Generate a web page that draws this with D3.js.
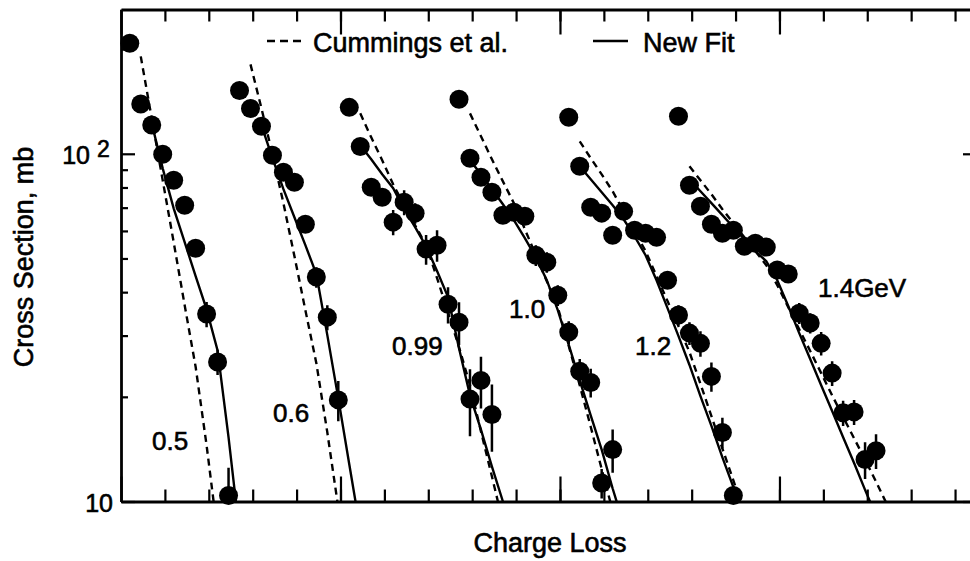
<!DOCTYPE html>
<html>
<head>
<meta charset="utf-8">
<script src="https://cdnjs.cloudflare.com/ajax/libs/d3/7.8.5/d3.min.js"></script>
<style>
  body { margin: 0; background: #fff; }
  svg text { font-family: "Liberation Sans", Arial, Helvetica, sans-serif; fill: #000; stroke: #000; stroke-width: 0.6px; }
</style>
</head>
<body>
<div id="chart"></div>
<script>
// energies (GeV) and the charge loss at which each group's first point sits
var energies = ["0.5", "0.6", "0.99", "1.0", "1.2", "1.4GeV"];
var startLoss = [0.8, 10.8, 20.8, 30.8, 40.8, 50.8];

// measured cross sections (mb), one point per unit of charge loss
var sigma05 = [208, 139, 121, 99.7, 83.9, 71.1, 53.5, 34.6, 25.2, 10.4];
var sigma06 = [152, 135, 120, 99, 88.5, 82.8, 62.7, 44.2, 33.9, 19.6];
var sigma099 = [136, 105, 80.1, 75, 63.6, 72.6, 67.5, 53.2, 54.6, 36.9, 32.8, 19.7, 22.3, 17.8];
var sigma10 = [143.5, 97.1, 85.6, 77.5, 66.6, 67.9, 66.1, 51.1, 48.8, 39.2, 30.7, 23.7, 22.0, 11.3, 14.1];
var sigma12 = [127.3, 92.1, 70.2, 67.5, 58.3, 68.3, 60.3, 59.1, 57.5, 43.3, 34.4, 30.5, 28.5, 22.9, 15.8, 10.4];
var sigma14 = [128.2, 81.2, 70.7, 62.7, 59.1, 60.3, 54.2, 55.3, 53.9, 46.3, 45.1, 34.8, 32.6, 28.5, 23.4, 18.0, 18.1, 13.2, 14.0];

// errors (mb)
var err05 = [5.6, 3.7, 3.3, 2.7, 2.8, 2.4, 2.2, 2.9, 2.1, 2.1];
var err06 = [4.1, 3.6, 3.2, 2.7, 2.4, 2.8, 2.5, 3.0, 2.8, 2.6];
var err099 = [3.7, 3.6, 3.2, 4.1, 5.3, 6.0, 4.6, 5.2, 5.7, 4.4, 4.6, 4.3, 3.8, 3.9];
var err10 = [3.9, 3.3, 2.9, 3.1, 2.7, 3.7, 3.6, 3.5, 3.3, 2.7, 2.3, 2.0, 2.1, 1.1, 2.0];
var err12 = [3.4, 2.5, 1.9, 2.3, 2.0, 2.3, 2.1, 2.4, 2.3, 2.3, 2.3, 2.3, 2.4, 2.2, 1.6, 0.7];
var err14 = [3.5, 2.2, 1.9, 1.7, 2.0, 2.0, 1.8, 1.9, 1.8, 1.9, 1.8, 2.4, 2.2, 2.2, 1.9, 1.5, 1.5, 1.6, 1.6];

// Cummings et al. curves, starting one unit after the first point
var cummings05 = [190.6, 126.5, 83.9, 55.7, 36.7, 24.4, 14.5, 8.1];
var cummings06 = [180.8, 135.1, 99.7, 72.1, 50.8, 35.5, 25.0, 15.8, 9.6];
var cummings099 = [130.7, 111.5, 95.8, 81.7, 71.1, 62.3, 54.6, 43.9, 35.0, 27.8, 21.6, 15.9, 11.8, 8.7];
var cummings10 = [130.7, 112.3, 96.4, 83.3, 72.1, 60.7, 51.1, 43.0, 36.2, 28.0, 21.6, 16.4, 12.4, 9.4];
var cummings12 = [108.6, 97.1, 87.3, 78.0, 68.3, 59.9, 52.5, 44.5, 37.7, 31.9, 26.9, 21.8, 17.6, 14.2, 11.5, 9.3];
var cummings14 = [92.1, 83.9, 76.5, 69.3, 63.1, 57.5, 52.5, 47.8, 41.9, 36.2, 31.3, 27.1, 23.4, 20.2, 17.5, 15.2, 13.2, 11.4, 9.8];

// new fit curves
var newFit05 = [122.4, 90.8, 69.7, 55.7, 44.5, 35.7, 27.2, 15.3, 8.1];
var newFit06 = [120.8, 97.1, 79.1, 65.7, 54.6, 45.1, 30.1, 19.8, 12.8, 8.3];
var newFit099 = [105.8, 96.4, 87.3, 79.6, 69.3, 61.5, 54.2, 46.0, 38.7, 27.6, 20.2, 16.1, 12.6, 10.0, 7.9];
var newFit10 = [95.8, 87.3, 79.1, 71.6, 64.4, 57.2, 50.4, 43.3, 35.5, 28.2, 22.3, 17.7, 14.1, 10.9, 8.6];
var newFit12 = [92.1, 84.5, 77.5, 71.1, 64.8, 57.9, 51.1, 43.3, 36.0, 29.9, 24.7, 20.1, 16.5, 13.4, 11.0, 9.0];
var newFit14 = [84.5, 78.0, 72.1, 66.6, 61.5, 56.8, 52.5, 49.1, 43.3, 36.5, 30.5, 25.7, 21.6, 18.2, 15.3, 12.9, 10.8, 9.1];

// offset (in units of charge loss) of each curve's first value from the group's first point
var cummingsStart = [1, 1, 1, 1, 1, 1];
var newFitStart = [2, 2, 1, 1, 1, 1];

var xMinor = d3.range(4, 78, 4);
var xMajor = [0, 20, 40, 60];
var yMinor = [20, 30, 40, 50, 60, 70, 80, 90, 200];
var yMajor = [10, 100];

var sigmas = [sigma05, sigma06, sigma099, sigma10, sigma12, sigma14];
var errs = [err05, err06, err099, err10, err12, err14];
var cummings = [cummings05, cummings06, cummings099, cummings10, cummings12, cummings14];
var newFits = [newFit05, newFit06, newFit099, newFit10, newFit12, newFit14];

var groups = energies.map(function(e, k) {
    return {
        label: e,
        start: startLoss[k],
        points: sigmas[k].map(function(v, i) { return { loss: startLoss[k] + i, v: v, e: errs[k][i] }; }),
        cummings: cummings[k].map(function(v, i) { return { loss: startLoss[k] + cummingsStart[k] + i, v: v }; }),
        fit: newFits[k].map(function(v, i) { return { loss: startLoss[k] + newFitStart[k] + i, v: v }; })
    };
});

// label placement (pixels): text start x, baseline y
var labelPos = [[152, 450], [273, 422], [392, 355], [509, 318], [635, 355], [818, 297]];

var width = 970, height = 561;
var margin = {top: 9.5, left: 121, bottom: 501.5, right: 977};

var svg = d3.select("#chart")
    .append("svg")
    .attr("width", width)
    .attr("height", height);

var x = d3.scaleLinear()
    .domain([0, 78])
    .range([margin.left, margin.right]);

var y = d3.scaleLog()
    .domain([10, 260])
    .range([margin.bottom, margin.top]);

svg.append("clipPath")
    .attr("id", "plot-clip")
    .append("rect")
    .attr("x", margin.left)
    .attr("y", margin.top)
    .attr("width", margin.right - margin.left)
    .attr("height", margin.bottom - margin.top);

// frame + ticks (all pointing inward)
function styleAxis(g, w) {
    g.selectAll("text").remove();
    g.selectAll(".tick line").attr("stroke", "#000").attr("stroke-width", 2.2);
    g.select(".domain").attr("stroke", "#000").attr("stroke-width", w);
}

svg.append("g")
    .attr("transform", "translate(0," + margin.bottom + ")")
    .call(d3.axisBottom(x).tickValues(xMinor).tickSize(-12).tickSizeOuter(0))
    .call(styleAxis, 2.8);
svg.append("g")
    .attr("transform", "translate(0," + margin.bottom + ")")
    .call(d3.axisBottom(x).tickValues(xMajor).tickSize(-25).tickSizeOuter(0))
    .call(styleAxis, 0);
svg.append("g")
    .attr("transform", "translate(0," + margin.top + ")")
    .call(d3.axisTop(x).tickValues(xMinor).tickSize(-12).tickSizeOuter(0))
    .call(styleAxis, 2.8);
svg.append("g")
    .attr("transform", "translate(0," + margin.top + ")")
    .call(d3.axisTop(x).tickValues(xMajor).tickSize(-25).tickSizeOuter(0))
    .call(styleAxis, 0);

svg.append("g")
    .attr("transform", "translate(" + margin.left + ",0)")
    .call(d3.axisLeft(y).tickValues(yMinor).tickSize(-7).tickSizeOuter(0))
    .call(styleAxis, 2.8);
svg.append("g")
    .attr("transform", "translate(" + margin.left + ",0)")
    .call(d3.axisLeft(y).tickValues(yMajor).tickSize(-14).tickSizeOuter(0))
    .call(styleAxis, 0);
svg.append("g")
    .attr("transform", "translate(" + margin.right + ",0)")
    .call(d3.axisRight(y).tickValues(yMinor).tickSize(-7).tickSizeOuter(0))
    .call(styleAxis, 2.8);
svg.append("g")
    .attr("transform", "translate(" + margin.right + ",0)")
    .call(d3.axisRight(y).tickValues(yMajor).tickSize(-14).tickSizeOuter(0))
    .call(styleAxis, 0);

// y tick labels
svg.append("text")
    .attr("x", 113)
    .attr("y", y(10) + 10)
    .attr("text-anchor", "end")
    .style("font-size", "25px")
    .text("10");
svg.append("text")
    .attr("x", 90)
    .attr("y", y(100) + 10)
    .attr("text-anchor", "end")
    .style("font-size", "25px")
    .text("10");
svg.append("text")
    .attr("x", 97)
    .attr("y", y(100) + 3)
    .style("font-size", "23px")
    .text("2");

// curves
var plot = svg.append("g").attr("clip-path", "url(#plot-clip)");

var line = d3.line()
    .x(function(d) { return x(d.loss); })
    .y(function(d) { return y(d.v); });

plot.selectAll(".cummings")
    .data(groups)
    .enter()
    .append("path")
    .attr("class", "cummings")
    .attr("d", function(d) { return line(d.cummings); })
    .attr("fill", "none")
    .attr("stroke", "#000")
    .attr("stroke-width", 2.4)
    .attr("stroke-dasharray", "7,5");

plot.selectAll(".fit")
    .data(groups)
    .enter()
    .append("path")
    .attr("class", "fit")
    .attr("d", function(d) { return line(d.fit); })
    .attr("fill", "none")
    .attr("stroke", "#000")
    .attr("stroke-width", 2.4);

// error bars
var allPoints = d3.merge(groups.map(function(g) { return g.points; }));

plot.selectAll(".err")
    .data(allPoints)
    .enter()
    .append("line")
    .attr("class", "err")
    .attr("x1", function(d) { return x(d.loss); })
    .attr("x2", function(d) { return x(d.loss); })
    .attr("y1", function(d) { return y(d.v + d.e); })
    .attr("y2", function(d) { return y(Math.max(d.v - d.e, 1)); })
    .attr("stroke", "#000")
    .attr("stroke-width", 2.5);

// data points
svg.selectAll(".pt")
    .data(allPoints)
    .enter()
    .append("circle")
    .attr("class", "pt")
    .attr("cx", function(d) { return x(d.loss); })
    .attr("cy", function(d) { return y(d.v); })
    .attr("r", 9.5)
    .attr("fill", "#000");

// energy labels
svg.selectAll(".elabel")
    .data(groups)
    .enter()
    .append("text")
    .attr("class", "elabel")
    .attr("x", function(d, i) { return labelPos[i][0]; })
    .attr("y", function(d, i) { return labelPos[i][1]; })
    .style("font-size", "26px")
    .text(function(d) { return d.label; });

// legend
svg.append("line")
    .attr("x1", 267).attr("x2", 303)
    .attr("y1", 41).attr("y2", 41)
    .attr("stroke", "#000").attr("stroke-width", 2.4)
    .attr("stroke-dasharray", "8,5");
svg.append("text")
    .attr("x", 313).attr("y", 52)
    .style("font-size", "27px")
    .text("Cummings et al.");
svg.append("line")
    .attr("x1", 593).attr("x2", 628)
    .attr("y1", 41).attr("y2", 41)
    .attr("stroke", "#000").attr("stroke-width", 2.4);
svg.append("text")
    .attr("x", 643).attr("y", 52)
    .style("font-size", "27px")
    .text("New Fit");

// axis titles
svg.append("text")
    .attr("x", 550).attr("y", 552)
    .attr("text-anchor", "middle")
    .style("font-size", "27px")
    .text("Charge Loss");
svg.append("text")
    .attr("transform", "translate(33,257) rotate(-90)")
    .attr("text-anchor", "middle")
    .style("font-size", "27px")
    .text("Cross Section, mb");
</script>
</body>
</html>
